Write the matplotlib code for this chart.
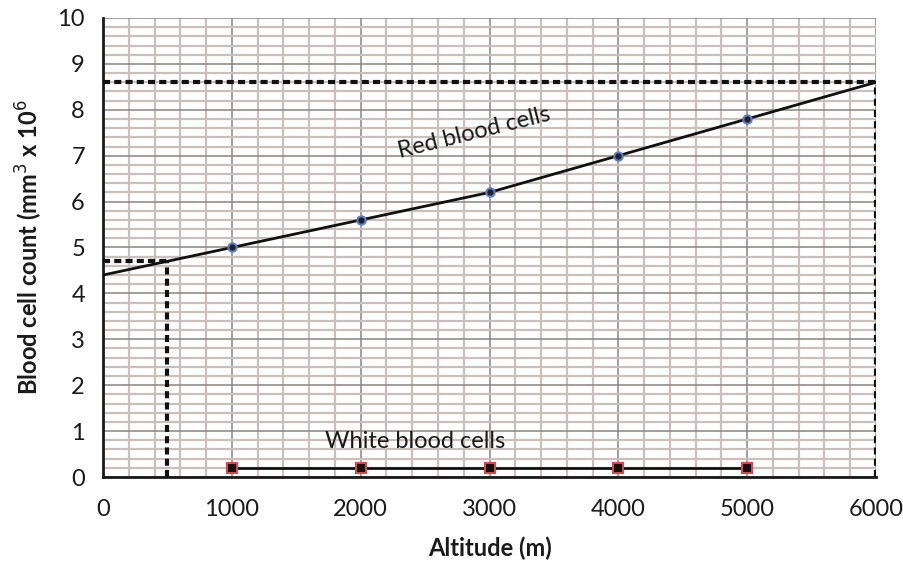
import matplotlib
matplotlib.use("Agg")
import matplotlib.pyplot as plt
from matplotlib.ticker import MultipleLocator

altitude = [1000, 2000, 3000, 4000, 5000]
red_cells = [5.0, 5.6, 6.2, 7.0, 7.8]
red_line_x = [0, 1000, 2000, 3000, 4000, 5000, 6000]
red_line_y = [4.4, 5.0, 5.6, 6.2, 7.0, 7.8, 8.6]
white_cells = [0.2, 0.2, 0.2, 0.2, 0.2]
guide_high = (6000, 8.6)
guide_low = (500, 4.7)

plt.rcParams['font.family'] = ['Lato', 'DejaVu Sans']
fig = plt.figure(figsize=(9.04, 5.74), dpi=100)
ax = fig.add_axes([103/904, 97/574, 773/904, 459/574])
ax.set_xlim(0, 6000)
ax.set_ylim(0, 10)
ax.xaxis.set_major_locator(MultipleLocator(1000))
ax.xaxis.set_minor_locator(MultipleLocator(200))
ax.yaxis.set_major_locator(MultipleLocator(1))
ax.yaxis.set_minor_locator(MultipleLocator(0.2))
ax.grid(which='minor', color='#c9c0bc', lw=1.6, zorder=0)
ax.grid(which='major', color='#8c8480', lw=1.1, zorder=0)
ax.set_axisbelow(True)
ax.tick_params(axis='x', which='both', length=0, labelsize=17, colors='#1a1a1a', pad=16)
ax.tick_params(axis='y', which='both', length=0, labelsize=17, colors='#1a1a1a', pad=13)
for s in ['top', 'right']:
    ax.spines[s].set_visible(False)
for s in ['left', 'bottom']:
    ax.spines[s].set_color('#1a1a1a')
    ax.spines[s].set_linewidth(2)

dash = dict(color='#111111', lw=3, ls=(0, (1.7, 1.0)), zorder=3)
ax.plot([0, guide_high[0]], [guide_high[1], guide_high[1]], **dash)
ax.plot([guide_high[0], guide_high[0]], [0, guide_high[1]], **dash)
ax.plot([0, guide_low[0]], [guide_low[1], guide_low[1]], **dash)
ax.plot([guide_low[0], guide_low[0]], [0, guide_low[1]], **dash)

ax.plot(red_line_x, red_line_y, color='#111111', lw=2, zorder=4)
ax.plot(altitude, red_cells, ls='none', marker='o', ms=6, mfc='#222222',
        mec='#5a7ec8', mew=1.5, zorder=5)
ax.plot(altitude, white_cells, color='#111111', lw=2, marker='s', ms=7,
        mfc='#111111', mec='#d9464b', mew=1.5, zorder=5)

ax.text(2880, 7.5, 'Red blood cells', rotation=14, ha='center', va='center',
        fontsize=17, color='#1a1a1a', zorder=6)
ax.text(2420, 0.78, 'White blood cells', ha='center', va='center',
        fontsize=17, color='#1a1a1a', zorder=6)

ax.set_xlabel('Altitude (m)', fontsize=17, fontweight='bold', color='#1a1a1a', labelpad=12)
ax.set_ylabel('Blood cell count (mm$^3$ x 10$^6$', fontsize=17, fontweight='bold',
              color='#1a1a1a', labelpad=9)
fig.savefig('out.png', dpi=100)
